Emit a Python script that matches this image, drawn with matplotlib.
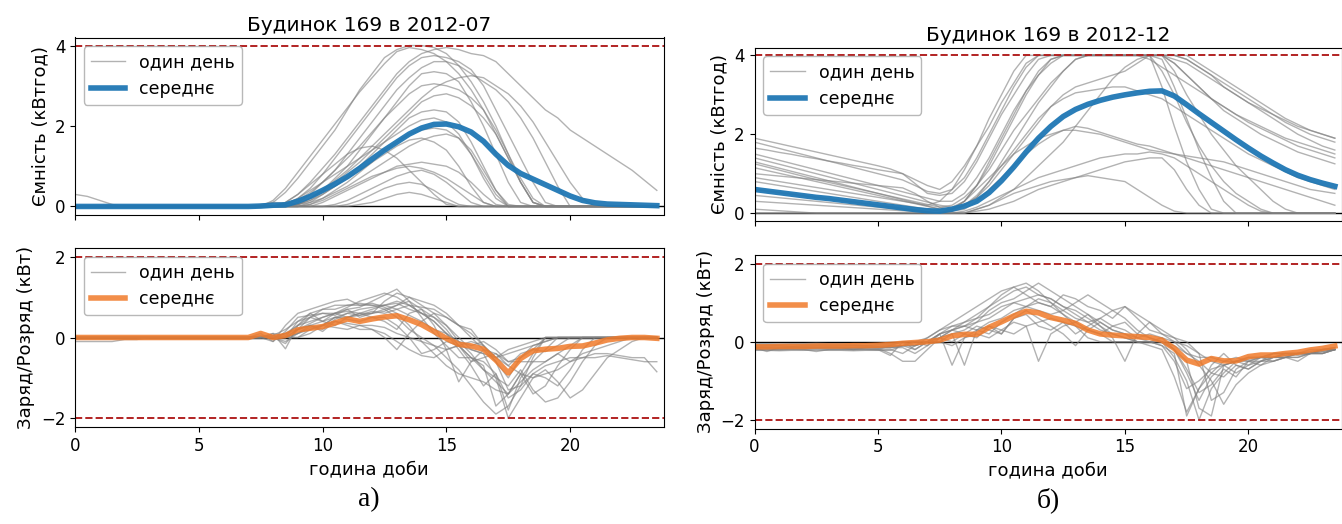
import matplotlib
matplotlib.use("Agg")
import matplotlib.pyplot as plt

# ---------------- data ----------------
hours = [0, 0.5, 1, 1.5, 2, 2.5, 3, 3.5, 4, 4.5, 5, 5.5,
         6, 6.5, 7, 7.5, 8, 8.5, 9, 9.5, 10, 10.5, 11, 11.5,
         12, 12.5, 13, 13.5, 14, 14.5, 15, 15.5, 16, 16.5, 17, 17.5,
         18, 18.5, 19, 19.5, 20, 20.5, 21, 21.5, 22, 22.5, 23, 23.5]

titles = ["Будинок 169 в 2012-07", "Будинок 169 в 2012-12"]
captions = ["а)", "б)"]
soc_label = "Ємність (кВтгод)"
pow_label = "Заряд/Розряд (кВт)"
x_label = "година доби"
legend_day = "один день"
legend_mean = "середнє"
soc_limit = 4
pow_limits = [2, -2]

# July: state of charge, mean
jul_soc_mean = [0, 0, 0, 0, 0, 0, 0, 0, 0, 0, 0, 0,
                0, 0, 0, 0.01, 0.03, 0.04, 0.13, 0.25, 0.40, 0.56, 0.74, 0.95,
                1.18, 1.40, 1.60, 1.80, 1.95, 2.04, 2.05, 1.98, 1.85, 1.62, 1.30, 1.02,
                0.82, 0.68, 0.54, 0.40, 0.26, 0.15, 0.09, 0.06, 0.05, 0.04, 0.03, 0.02]

# July: state of charge, single days
jul_soc_days = [
    [0,0,0,0,0,0,0,0,0,0,0,0, 0,0,0,0,0.1,0.35,0.7,1.1,1.5,1.9,2.4,2.9,
     3.3,3.7,3.9,4.0,4.0,3.95,3.8,3.5,3.1,2.6,2.0,1.3, 0.6,0.1,0,0,0,0,0,0,0,0,0,0],
    [0,0,0,0,0,0,0,0,0,0,0,0, 0,0,0,0,0,0.1,0.3,0.6,0.95,1.3,1.7,2.1,
     2.5,2.9,3.3,3.6,3.8,3.9,3.95,3.9,3.8,3.75,3.6,3.3, 3.0,2.7,2.4,2.2,1.9,1.7,1.5,1.3,1.1,0.9,0.65,0.4],
    [0,0,0,0,0,0,0,0,0,0,0,0, 0,0,0,0,0,0.05,0.2,0.45,0.8,1.2,1.6,2.0,
     2.4,2.8,3.2,3.5,3.7,3.75,3.7,3.6,3.4,3.0,2.4,1.8, 1.2,0.6,0.1,0,0,0,0,0,0,0,0,0],
    [0,0,0,0,0,0,0,0,0,0,0,0, 0,0,0,0,0,0,0.1,0.3,0.6,0.9,1.3,1.7,
     2.1,2.5,2.9,3.2,3.45,3.6,3.6,3.5,3.3,3.1,2.9,2.6, 2.2,1.7,1.1,0.5,0,0,0,0,0,0,0,0],
    [0,0,0,0,0,0,0,0,0,0,0,0, 0,0,0,0,0,0,0.05,0.2,0.4,0.7,1.0,1.4,
     1.8,2.2,2.6,3.0,3.3,3.35,3.3,3.1,2.6,2.0,1.3,0.6, 0.1,0,0,0,0,0,0,0,0,0,0,0],
    [0,0,0,0,0,0,0,0,0,0,0,0, 0,0,0,0,0,0.05,0.15,0.35,0.6,0.9,1.2,1.5,
     1.85,2.2,2.5,2.8,3.0,3.05,3.0,2.9,2.7,2.4,1.9,1.3, 0.7,0.2,0,0,0,0,0,0,0,0,0,0],
    [0,0,0,0,0,0,0,0,0,0,0,0, 0,0,0,0,0,0,0.05,0.15,0.35,0.6,0.85,1.1,
     1.4,1.7,2.0,2.3,2.6,2.75,2.8,2.7,2.5,2.2,1.8,1.2, 0.6,0.1,0,0,0,0,0,0,0,0,0,0],
    [0,0,0,0,0,0,0,0,0,0,0,0, 0,0,0,0,0,0,0,0.1,0.3,0.5,0.75,1.0,
     1.3,1.6,1.9,2.2,2.35,2.4,2.35,2.1,1.6,1.0,0.4,0, 0,0,0,0,0,0,0,0,0,0,0,0],
    [0,0,0,0,0,0,0,0,0,0,0,0, 0,0,0,0,0,0.05,0.2,0.4,0.6,0.8,1.0,1.2,
     1.4,1.6,1.8,2.0,2.15,2.2,2.1,1.8,1.3,0.7,0.2,0, 0,0,0,0,0,0,0,0,0,0,0,0],
    [0,0,0,0,0,0,0,0,0,0,0,0, 0,0,0,0,0,0,0,0.05,0.2,0.4,0.6,0.85,
     1.1,1.4,1.6,1.8,1.9,1.95,1.9,1.7,1.3,0.8,0.3,0, 0,0,0,0,0,0,0,0,0,0,0,0],
    [0,0,0,0,0,0,0,0,0,0,0,0, 0,0,0,0,0,0,0.05,0.15,0.3,0.5,0.7,0.9,
     1.1,1.3,1.5,1.65,1.7,1.6,1.4,1.0,0.5,0.1,0,0, 0,0,0,0,0,0,0,0,0,0,0,0],
    [0,0,0,0,0,0,0,0,0,0,0,0, 0,0,0,0,0,0.1,0.3,0.55,0.8,1.05,1.3,1.45,
     1.5,1.4,1.2,0.9,0.6,0.3,0.05,0,0,0,0,0, 0,0,0,0,0,0,0,0,0,0,0,0],
    [0,0,0,0,0,0,0,0,0,0,0,0, 0,0,0,0,0,0,0,0,0.1,0.25,0.4,0.55,
     0.7,0.85,1.0,1.05,1.1,1.05,1.0,0.85,0.6,0.3,0.05,0, 0,0,0,0,0,0,0,0,0,0,0,0],
    [0,0,0,0,0,0,0,0,0,0,0,0, 0,0,0,0,0,0,0,0.05,0.15,0.3,0.45,0.6,
     0.75,0.85,0.95,1.0,0.95,0.85,0.7,0.5,0.3,0.1,0,0, 0,0,0,0,0,0,0,0,0,0,0,0],
    [0,0,0,0,0,0,0,0,0,0,0,0, 0,0,0,0,0,0,0,0,0,0.05,0.15,0.3,
     0.45,0.6,0.75,0.85,0.9,0.8,0.6,0.35,0.1,0,0,0, 0,0,0,0,0,0,0,0,0,0,0,0],
    [0,0,0,0,0,0,0,0,0,0,0,0, 0,0,0,0,0,0,0,0,0,0,0.05,0.15,
     0.3,0.45,0.55,0.6,0.55,0.4,0.2,0.05,0,0,0,0, 0,0,0,0,0,0,0,0,0,0,0,0],
    [0.3,0.25,0.15,0.05,0,0,0,0,0,0,0,0, 0,0,0,0,0,0,0,0,0,0,0,0.05,
     0.1,0.2,0.3,0.35,0.3,0.2,0.1,0,0,0,0,0, 0,0,0,0,0,0,0,0,0,0,0,0],
    [0,0,0,0,0,0,0,0,0,0,0,0, 0,0,0,0,0,0,0.05,0.2,0.4,0.65,0.9,1.2,
     1.5,1.8,2.1,2.4,2.7,2.95,3.1,3.2,3.25,3.2,3.0,2.8, 2.5,2.1,1.6,1.1,0.6,0.2,0,0,0,0,0,0],
    [0,0,0,0,0,0,0,0,0,0,0,0, 0,0,0,0,0.15,0.45,0.85,1.25,1.65,2.05,2.45,2.85,
     3.2,3.55,3.85,3.95,3.9,3.8,3.6,3.3,2.9,2.4,1.8,1.2, 0.6,0.1,0,0,0,0,0,0,0,0,0,0],
    [0,0,0,0,0,0,0,0,0,0,0,0, 0,0,0,0.05,0.1,0.08,0.05,0.1,0.2,0.35,0.5,0.7,
     0.9,1.1,1.3,1.5,1.65,1.75,1.8,1.7,1.4,0.9,0.4,0.05, 0,0,0,0,0,0,0,0,0,0,0,0],
]

# July: charge / discharge power, mean
jul_pow_mean = [0, 0, 0, 0, 0, 0, 0, 0, 0, 0, 0, 0,
                0, 0, 0, 0.10, 0.0, 0.05, 0.19, 0.23, 0.27, 0.36, 0.46, 0.40,
                0.46, 0.51, 0.54, 0.44, 0.32, 0.15, -0.02, -0.17, -0.21, -0.29, -0.56, -0.88,
                -0.52, -0.33, -0.29, -0.27, -0.22, -0.21, -0.14, -0.06, -0.02, 0, 0, -0.02]

# July: charge / discharge power, single days
jul_pow_days = [
    [0,0,0,0,0,0,0,0,0,0,0,0, 0,0,0,0.1,-0.1,0.3,0.6,0.7,0.8,0.9,0.95,0.8,
     0.85,0.75,0.6,0.3,-0.1,-0.4,-0.7,-0.9,-1.0,-1.1,-1.3,-1.4, -0.9,-0.4,0,0,0,0,0,0,0,0,0,0],
    [0,0,0,0,0,0,0,0,0,0,0,0, 0,0,0,0,0.05,0.2,0.4,0.6,0.7,0.7,0.8,0.8,
     0.8,0.8,0.7,0.55,0.4,0.2,0.1,-0.1,-0.2,-0.1,-0.3,-0.6, -0.6,-0.6,-0.6,-0.4,-0.6,-0.5,-0.4,-0.4,-0.45,-0.5,-0.5,-0.85],
    [0,0,0,0,0,0,0,0,0,0,0,0, 0,0,0,0,0,0.1,0.3,0.5,0.7,0.8,0.8,0.85,
     0.8,0.7,0.5,0.2,0,-0.2,-0.5,-0.8,-1.2,-1.6,-1.9,-1.7, -1.2,-0.5,0,0,0,0,0,0,0,0,0,0],
    [0,0,0,0,0,0,0,0,0,0,0,0, 0,0,0,0.05,0,-0.15,0.2,0.5,0.6,0.55,0.7,0.75,
     0.9,1.05,1.2,0.9,0.5,0.1,-0.2,-0.5,-0.5,-0.6,-0.9,-1.5, -1.3,-0.9,-1.0,-1.2,-0.8,-0.3,0,0,0,0,0,0],
    [0,0,0,0,0,0,0,0,0,0,0,0, 0,0,0,0,0.1,-0.28,0.3,0.6,0.4,0.6,0.7,0.5,
     0.6,0.9,1.1,1.0,0.8,0.6,0.3,0,-0.3,-0.4,-1.0,-2.0, -1.5,-1.0,-0.8,-1.1,-1.5,-1.3,-0.9,-0.5,-0.3,-0.1,0,0],
    [0,0,0,0,0,0,0,0,0,0,0,0, 0,0,0,0,0,0,0.4,0.5,0.4,0.3,0.5,0.6,
     0.5,0.4,0.2,0.6,0.7,0.5,0.3,-0.1,-0.4,-0.8,-1.0,-1.2, -0.8,-1.3,-1.6,-1.5,-1.1,-0.6,-0.2,0,0,0,0,0],
    [0,0,0,0,0,0,0,0,0,0,0,0, 0,0,0,0,0,0.1,0.2,0.3,0.15,0.4,0.3,0.2,
     0.2,0,-0.3,0.1,0.4,0.6,0.5,0.3,0.2,-0.2,-0.6,-1.0, -0.5,-0.2,-0.1,0,0,0,0,0,0,0,0,0],
    [0,0,0,0,0,0,0,0,0,0,0,0, 0,0,0,0,-0.1,0.15,0.5,0.55,0.6,0.6,0.65,0.6,
     0.7,0.8,0.85,0.7,0.6,0.4,0.1,-0.3,-0.7,-1.2,-0.9,-1.8, -1.0,-0.6,-0.3,0,0,0,0,0,0,0,0,0],
    [0,0,0,0,0,0,0,0,0,0,0,0, 0,0,0,0,0,0,0.1,0.3,0.2,0.45,0.6,0.55,
     0.6,0.65,0.8,0.9,0.7,0.3,-0.3,-1.1,-0.6,-0.3,-0.4,-0.7, -0.4,-0.3,-0.35,-0.2,0,0,0,0,0,0,0,0],
    [0,0,0,0,0,0,0,0,0,0,0,0, 0,0,0,0,0.05,0,0.2,0.35,0.5,0.6,0.75,0.9,
     1.0,1.1,1.0,0.8,0.6,0.5,0.2,-0.2,-0.5,-0.8,-1.1,-1.4, -1.1,-0.8,-0.6,-0.4,-0.2,0,0,0,0,0,0,0],
    [0,0,0,0,0,0,0,0,0,0,0,0, 0,0,0,0,0,-0.1,0.1,0.25,0.3,0.5,0.45,0.4,
     0.5,0.5,0.3,0,-0.4,-0.3,-0.1,-0.2,-0.6,-0.5,-0.4,-0.6, -0.5,-0.3,0,0,0,0,0,0,0,0,0,0],
    [0,0,0,0,0,0,0,0,0,0,0,0, 0,0,0,0,0,0,0,0.2,0.3,0.4,0.35,0.3,
     0.2,0.1,-0.1,-0.3,-0.45,-0.5,-0.3,-0.2,-0.3,-0.4,-0.5,-0.3, -0.2,-0.1,0,0,0,0,0,0,0,0,0,0],
    [-0.1,-0.1,-0.1,-0.1,-0.05,-0.05,0,0,0,0,0,0, 0,0,0,0,0,0,0.1,0.2,0.3,0.25,0.2,0.3,
     0.3,0.25,0.1,0,-0.1,-0.2,-0.3,-0.2,-0.1,-0.2,-0.5,-0.4, -0.3,-0.2,-0.1,0,0,0,0,0,0,0,0,0],
    [0,0,0,0,0,0,0,0,0,0,0,0, 0,0,0,0,0,0,0,0.1,0.3,0.5,0.6,0.7,
     0.75,0.8,0.9,0.8,0.75,0.7,0.5,0.3,0.0,-0.3,-0.6,-1.3, -1.2,-0.9,-0.7,-0.6,-0.5,-0.5,-0.5,-0.45,-0.5,-0.55,-0.6,-0.6],
    [0,0,0,0,0,0,0,0,0,0,0,0, 0,0,0,0,0.1,0.05,0.3,0.4,0.5,0.6,0.5,0.55,
     0.65,0.6,0.7,0.8,0.6,0.4,0.1,-0.2,-0.5,-0.7,-1.7,-1.4, -0.9,-1.4,-1.2,-0.7,-0.3,0,0,0,0,0,0,0],
    [0,0,0,0,0,0,0,0,0,0,0,0, 0,0,0,0,0,0,0.2,0.3,0.4,0.5,0.5,0.6,
     0.6,0.7,0.8,1.0,0.9,0.8,0.6,0.3,0.1,-0.2,-0.5,-0.7, -0.9,-1.0,-0.9,-0.8,-0.6,-0.4,-0.3,-0.2,-0.1,0,0,0],
]

# December: state of charge, mean
dec_soc_mean = [0.60, 0.56, 0.52, 0.48, 0.44, 0.40, 0.37, 0.33, 0.29, 0.25, 0.21, 0.17,
                0.13, 0.09, 0.06, 0.05, 0.10, 0.18, 0.30, 0.52, 0.82, 1.17, 1.55, 1.90,
                2.20, 2.45, 2.63, 2.76, 2.86, 2.94, 3.00, 3.05, 3.09, 3.10, 2.97, 2.75,
                2.52, 2.30, 2.08, 1.86, 1.65, 1.45, 1.27, 1.10, 0.96, 0.85, 0.76, 0.68]

# December: state of charge, single days
dec_soc_days = [
    [1.9,1.83,1.76,1.69,1.62,1.55,1.48,1.41,1.34,1.27,1.2,1.12, 1.0,0.85,0.7,0.6,0.8,1.2,1.7,2.2,2.8,3.3,3.8,4.0,
     4,4,4,4,4,4,4,4,4,4,3.9,3.8, 3.6,3.4,3.2,3.0,2.8,2.65,2.5,2.35,2.2,2.1,2.0,1.9],
    [1.8,1.72,1.64,1.56,1.48,1.4,1.32,1.24,1.16,1.08,1.0,0.92, 0.84,0.7,0.55,0.5,0.6,0.9,1.4,2.0,2.6,3.2,3.7,4.0,
     4,4,4,4,4,4,4,4,4,4,4,3.9, 3.7,3.5,3.3,3.1,2.9,2.7,2.5,2.3,2.15,2.0,1.9,1.8],
    [1.65,1.6,1.54,1.49,1.43,1.38,1.32,1.27,1.21,1.16,1.1,1.05, 1.0,0.75,0.5,0.45,0.5,0.8,1.3,1.9,2.5,3.0,3.5,3.9,
     4,4,4,4,4,4,4,4,4,4,3.8,3.5, 3.2,2.9,2.7,2.5,2.3,2.15,2.0,1.85,1.7,1.6,1.5,1.4],
    [1.5,1.42,1.34,1.26,1.18,1.1,1.02,0.94,0.86,0.78,0.7,0.62, 0.54,0.46,0.38,0.3,0.3,0.5,0.9,1.4,2.0,2.6,3.1,3.5,
     3.8,4.0,4,4,4,4,4,4,4,4,4,3.9, 3.7,3.5,3.2,3.0,2.8,2.6,2.4,2.2,2.0,1.85,1.7,1.6],
    [1.3,1.22,1.14,1.06,0.98,0.9,0.82,0.74,0.66,0.58,0.5,0.42, 0.34,0.26,0.18,0.1,0.1,0.3,0.7,1.3,1.9,2.5,3.1,3.6,
     3.9,4.0,4,4,4,4,4,4,4,4,3.6,3.0, 2.5,2.0,1.6,1.2,0.9,0.6,0.3,0.1,0,0,0,0],
    [1.25,1.17,1.09,1.01,0.93,0.85,0.78,0.71,0.64,0.57,0.5,0.43, 0.36,0.29,0.22,0.15,0.2,0.4,0.7,1.1,1.6,2.1,2.5,2.9,
     3.3,3.6,3.9,4,4,4,4,4,3.9,3.7,3.5,3.3, 3.1,2.9,2.7,2.5,2.35,2.2,2.05,1.9,1.8,1.7,1.6,1.5],
    [1.15,1.08,1.01,0.94,0.87,0.8,0.73,0.66,0.59,0.52,0.45,0.38, 0.31,0.24,0.17,0.1,0.1,0.2,0.4,0.7,1.1,1.5,1.9,2.3,
     2.7,3.0,3.2,3.3,3.4,3.5,3.6,3.8,4.0,4.0,3.8,3.5, 3.2,2.9,2.6,2.4,2.2,2.0,1.85,1.7,1.55,1.45,1.35,1.25],
    [1.0,0.97,0.94,0.91,0.88,0.85,0.82,0.79,0.76,0.73,0.7,0.67, 0.64,0.5,0.3,0.15,0.1,0.2,0.4,0.8,1.3,1.8,2.3,2.8,
     3.2,3.6,3.9,4,4,4,4,4,4,3.6,3.0,2.3, 1.7,1.2,0.8,0.5,0.3,0.1,0,0,0,0,0,0],
    [0.8,0.75,0.7,0.65,0.6,0.55,0.5,0.45,0.4,0.35,0.3,0.25, 0.2,0.15,0.1,0.05,0.05,0.1,0.3,0.6,0.9,1.2,1.5,1.75,
     1.95,2.1,2.2,2.15,2.05,1.95,1.85,1.75,1.7,1.6,1.5,1.4, 1.3,1.2,1.1,1.0,0.9,0.8,0.7,0.6,0.5,0.4,0.3,0.2],
    [0.6,0.56,0.52,0.48,0.44,0.4,0.36,0.32,0.28,0.24,0.2,0.16, 0.12,0.08,0.04,0,0,0.05,0.15,0.3,0.45,0.6,0.75,0.9,
     1.0,1.1,1.2,1.3,1.4,1.45,1.5,1.5,1.55,1.5,1.4,1.2, 1.0,0.8,0.6,0.4,0.2,0.05,0,0,0,0,0,0],
    [0.45,0.42,0.39,0.36,0.33,0.3,0.27,0.24,0.21,0.18,0.15,0.12, 0.09,0.06,0.03,0,0,0,0.1,0.2,0.4,0.6,0.9,1.2,
     1.5,1.8,2.2,2.6,3.0,3.4,3.7,3.9,4.0,3.9,3.2,2.4, 1.6,0.9,0.3,0,0,0,0,0,0,0,0,0],
    [0.3,0.28,0.26,0.24,0.22,0.2,0.18,0.16,0.14,0.12,0.1,0.08, 0.06,0.04,0.02,0,0,0,0.1,0.2,0.35,0.5,0.6,0.7,
     0.8,0.85,0.9,0.95,0.9,0.85,0.8,0.6,0.4,0.2,0.05,0, 0,0,0,0,0,0,0,0,0,0,0,0],
    [0.1,0.08,0.06,0.04,0.02,0,0,0,0,0,0,0, 0,0,0,0,0.1,0.3,0.6,0.9,1.2,1.5,1.7,1.9,
     2.0,2.1,2.1,2.05,2.0,1.9,1.8,1.7,1.6,1.55,1.5,1.45, 1.4,1.35,1.3,1.2,1.1,1.0,0.9,0.8,0.7,0.6,0.55,0.5],
    [0.9,0.85,0.8,0.75,0.7,0.65,0.6,0.55,0.5,0.45,0.4,0.35, 0.3,0.25,0.2,0.3,0.6,1.1,1.7,2.4,3.0,3.6,4.0,4.0,
     4,4,4,4,4,4,4,4,4,3.2,2.2,1.3, 0.6,0.1,0,0,0,0,0,0,0,0,0,0],
    [0,0,0,0,0,0,0,0,0,0,0,0, 0,0,0,0,0.05,0.2,0.45,0.8,1.2,1.6,2.0,2.4,
     2.7,2.9,3.05,3.1,3.15,3.2,3.2,3.1,3.0,2.9,2.7,2.5, 2.3,2.1,1.9,1.7,1.5,1.35,1.2,1.05,0.9,0.8,0.7,0.6],
    [0,0,0,0,0,0,0,0,0,0,0,0, 0,0,0,0,0,0,0.05,0.1,0.2,0.3,0.45,0.6,
     0.7,0.8,0.9,1.0,1.1,1.2,1.3,1.35,1.4,1.4,1.1,0.6, 0.2,0,0,0,0,0,0,0,0,0,0,0],
    [1.4,1.32,1.24,1.16,1.08,1.0,0.92,0.84,0.76,0.68,0.6,0.52, 0.44,0.36,0.28,0.2,0.15,0.3,0.7,1.2,1.8,2.4,3.0,3.5,
     3.9,4,4,4,4,4,4,4,4,4,4,4, 3.8,3.6,3.4,3.2,3.0,2.8,2.6,2.4,2.25,2.1,2.0,1.9],
]

# December: charge / discharge power, mean
dec_pow_mean = [-0.13, -0.13, -0.12, -0.12, -0.12, -0.11, -0.11, -0.11, -0.10, -0.10, -0.09, -0.07,
                -0.04, -0.02, 0.0, 0.04, 0.15, 0.19, 0.19, 0.37, 0.51, 0.66, 0.78, 0.74,
                0.62, 0.55, 0.47, 0.30, 0.20, 0.17, 0.15, 0.13, 0.11, 0.04, -0.17, -0.47,
                -0.57, -0.43, -0.49, -0.49, -0.38, -0.34, -0.34, -0.30, -0.27, -0.21, -0.17, -0.11]

# December: charge / discharge power, single days
dec_pow_days = [
    [-0.14,-0.15,-0.16,-0.15,-0.14,-0.15,-0.16,-0.15,-0.15,-0.14,-0.16,-0.15, -0.15,-0.3,-0.1,0.2,0.3,0.4,0.6,0.9,1.2,1.4,1.5,1.3,
     1.0,0.7,0.4,0.1,0,0,0,0,0,-0.1,-0.5,-1.2, -1.0,-0.7,-0.6,-0.5,-0.45,-0.4,-0.4,-0.35,-0.3,-0.3,-0.25,-0.2],
    [-0.2,-0.21,-0.2,-0.19,-0.2,-0.21,-0.2,-0.2,-0.19,-0.2,-0.21,-0.2, -0.3,-0.1,0.1,0.3,0.5,0.7,0.9,1.1,1.3,1.4,1.2,1.0,
     0.9,0.7,0.5,0.3,0.2,0,0,0,0,0,-0.2,-0.8, -1.5,-0.9,-0.6,-0.5,-0.4,-0.4,-0.4,-0.3,-0.3,-0.3,-0.2,-0.2],
    [-0.12,-0.12,-0.13,-0.12,-0.12,-0.11,-0.12,-0.12,-0.13,-0.12,-0.12,-0.12, -0.1,-0.2,0,0.2,0.4,0.4,0.5,0.8,1.0,1.1,1.3,1.5,
     1.3,1.1,0.9,0.7,0.5,0.3,0.2,0,0,-0.1,-0.3,-1.9, -1.2,-0.6,-0.3,-0.6,-0.7,-0.5,-0.3,-0.3,-0.35,-0.3,-0.25,-0.2],
    [-0.16,-0.16,-0.17,-0.16,-0.16,-0.16,-0.15,-0.16,-0.16,-0.16,-0.17,-0.3, -0.5,-0.5,-0.2,0.1,0.3,0.5,0.6,0.7,0.9,1.0,1.1,1.2,
     1.1,0.9,0.8,0.6,0.4,0.2,0.1,0,0,0,-0.4,-1.0, -2.0,-1.2,-0.8,-0.5,-0.5,-0.5,-0.4,-0.4,-0.3,-0.3,-0.3,-0.2],
    [-0.15,-0.25,-0.15,-0.14,-0.15,-0.15,-0.14,-0.15,-0.2,-0.15,-0.14,-0.15, -0.1,-0.1,0,0,0.2,0.3,0.5,0.6,0.8,1.0,0.9,0.8,
     0.7,0.8,1.0,1.2,1.0,0.8,0.6,0.3,0.1,0,-0.2,-0.7, -1.3,-1.1,-0.7,-0.9,-0.5,-0.4,-0.4,-0.3,-0.3,-0.3,-0.3,-0.2],
    [-0.15,-0.15,-0.16,-0.15,-0.15,-0.14,-0.15,-0.15,-0.16,-0.15,-0.15,-0.15, -0.1,0,-0.1,0.1,0.2,-0.6,0.3,0.5,0.6,0.8,0.9,1.1,
     1.0,0.8,0.6,0.5,0.6,0.8,0.9,0.7,0.5,0.3,0.1,-0.2, -0.6,-1.0,-1.6,-1.1,-0.8,-0.6,-0.5,-0.4,-0.4,-0.3,-0.2,-0.2],
    [-0.1,-0.1,-0.1,-0.12,-0.1,-0.1,-0.1,-0.1,-0.1,-0.1,-0.12,-0.1, 0,0,0,0.1,0.3,0.2,0.4,0.3,0.2,0.6,0.7,0.4,
     0.3,0.5,0.2,0.4,0.6,0.4,0.3,0.1,0.2,0.1,0,-0.3, -0.5,-0.8,-0.9,-0.6,-0.7,-0.5,-0.5,-0.4,-0.4,-0.3,-0.2,-0.15],
    [-0.18,-0.18,-0.19,-0.18,-0.18,-0.17,-0.18,-0.18,-0.19,-0.18,-0.2,-0.1, -0.1,-0.1,0,0.1,0,0.2,0.1,0.4,0.3,0.5,0.4,-0.5,
     0.2,0.4,0.5,0.7,0.4,0.1,-0.5,0.2,0.5,0.2,0,-0.1, -0.3,-0.5,-0.6,-0.8,-0.6,-0.5,-0.4,-0.4,-0.3,-0.3,-0.2,-0.2],
    [-0.08,-0.08,-0.09,-0.08,-0.08,-0.07,-0.08,-0.08,-0.09,-0.1,-0.08,-0.08, 0,-0.1,0,0.2,0.3,0.4,0.3,0.2,0.5,0.7,0.9,1.0,
     0.9,1.2,1.1,0.9,0.8,0.6,0.9,0.6,0.3,0.2,0.1,0, -0.3,-1.5,-1.3,-0.7,-0.5,-0.6,-0.4,-0.4,-0.3,-0.3,-0.3,-0.2],
    [-0.05,-0.05,-0.06,-0.05,-0.05,-0.04,-0.05,-0.05,-0.06,-0.05,-0.05,-0.05, 0,0,0,0,-0.1,0.1,0.2,0.1,0.3,0.2,0.4,0.5,
     0.6,0.5,0.4,0.3,0.2,0.4,0.5,0.2,0.1,0,-0.1,-0.3, -0.4,-0.4,-0.5,-0.5,-0.4,-0.4,-0.3,-0.3,-0.3,-0.2,-0.2,-0.15],
    [-0.2,-0.2,-0.21,-0.2,-0.2,-0.25,-0.2,-0.2,-0.21,-0.2,-0.2,-0.35, 0,-0.2,0,0.2,-0.6,0.1,0.3,0.4,0.2,0.6,0.8,0.6,
     0.4,0.2,-0.1,0.3,0.5,0.3,0.2,0.1,0,0.1,-0.2,-0.5, -1.7,-1.9,-0.6,-0.5,-0.6,-0.4,-0.5,-0.4,-0.5,-0.3,-0.3,-0.2],
    [-0.22,-0.22,-0.23,-0.22,-0.22,-0.21,-0.22,-0.22,-0.23,-0.22,-0.22,-0.22, -0.1,0,0.1,0.3,0.4,0.5,0.7,0.9,1.1,1.3,1.4,1.2,
     1.1,0.9,0.7,0.5,0.3,0.2,0.1,0,-0.1,-0.2,-0.9,-1.8, -1.2,-0.8,-0.5,-0.4,-0.5,-0.4,-0.3,-0.3,-0.3,-0.25,-0.2,-0.15],
]

# ---------------- style ----------------
plt.rcParams['font.family'] = ['DejaVu Sans']
plt.rcParams['font.size'] = 12
plt.rcParams['axes.titlesize'] = 14.5
plt.rcParams['axes.labelsize'] = 13
plt.rcParams['xtick.labelsize'] = 12
plt.rcParams['ytick.labelsize'] = 12
plt.rcParams['legend.fontsize'] = 12.5

W, H = 1342, 524
fig = plt.figure(figsize=(W / 100, H / 100), dpi=100)
fig.patch.set_facecolor('white')


def px_axes(x0, y0, x1, y1):
    return fig.add_axes([x0 / W, 1 - y1 / H, (x1 - x0) / W, (y1 - y0) / H])


GREY = '#808080'
RED = '#b22222'


def draw(ax, days, mean, mean_color, limits, ylim, ylabel, mean_alpha):
    for i, d in enumerate(days):
        ax.plot(hours, d, color=GREY, lw=1.0, alpha=0.6,
                label=legend_day if i == 0 else None)
    ax.axhline(0, color='black', lw=1.0, zorder=1.5)
    ax.plot(hours, mean, color=mean_color, lw=4, alpha=mean_alpha, label=legend_mean)
    for lv in limits:
        ax.axhline(lv, color=RED, ls='--', lw=1.4)
    ax.set_xlim(0, 23.77)
    ax.set_ylim(*ylim)
    ax.set_ylabel(ylabel)
    leg = ax.legend(loc='upper left')
    leg.get_frame().set_edgecolor('0.65')


panels = [
    (jul_soc_days, jul_soc_mean, jul_pow_days, jul_pow_mean,
     (75, 37.5, 663.5, 214.5), (75, 248, 663.5, 427)),
    (dec_soc_days, dec_soc_mean, dec_pow_days, dec_pow_mean,
     (754.5, 47.5, 1341.5, 221), (754.5, 255, 1341.5, 428.5)),
]

for k, (sd, sm, pd_, pm, top_box, bot_box) in enumerate(panels):
    ax1 = px_axes(*top_box)
    ax2 = px_axes(*bot_box)
    draw(ax1, sd, sm, '#1f77b4', [soc_limit], (-0.2, 4.2), soc_label, 0.95)
    draw(ax2, pd_, pm, '#f07a2a', pow_limits, (-2.22, 2.22), pow_label, 0.85)
    ax1.set_yticks([0, 2, 4])
    ax2.set_yticks([-2, 0, 2])
    ax1.set_xticks([0, 5, 10, 15, 20])
    ax1.set_xticklabels([])
    ax2.set_xticks([0, 5, 10, 15, 20])
    ax2.set_xlabel(x_label)
    ax1.set_title(titles[k], pad=5)
    cx = (top_box[0] + top_box[2]) / 2
    fig.text(cx / W, 1 - 500 / H, captions[k], ha='center', va='center',
             family='Liberation Serif', fontsize=20)

fig.savefig('out.png', dpi=100, facecolor='white')
